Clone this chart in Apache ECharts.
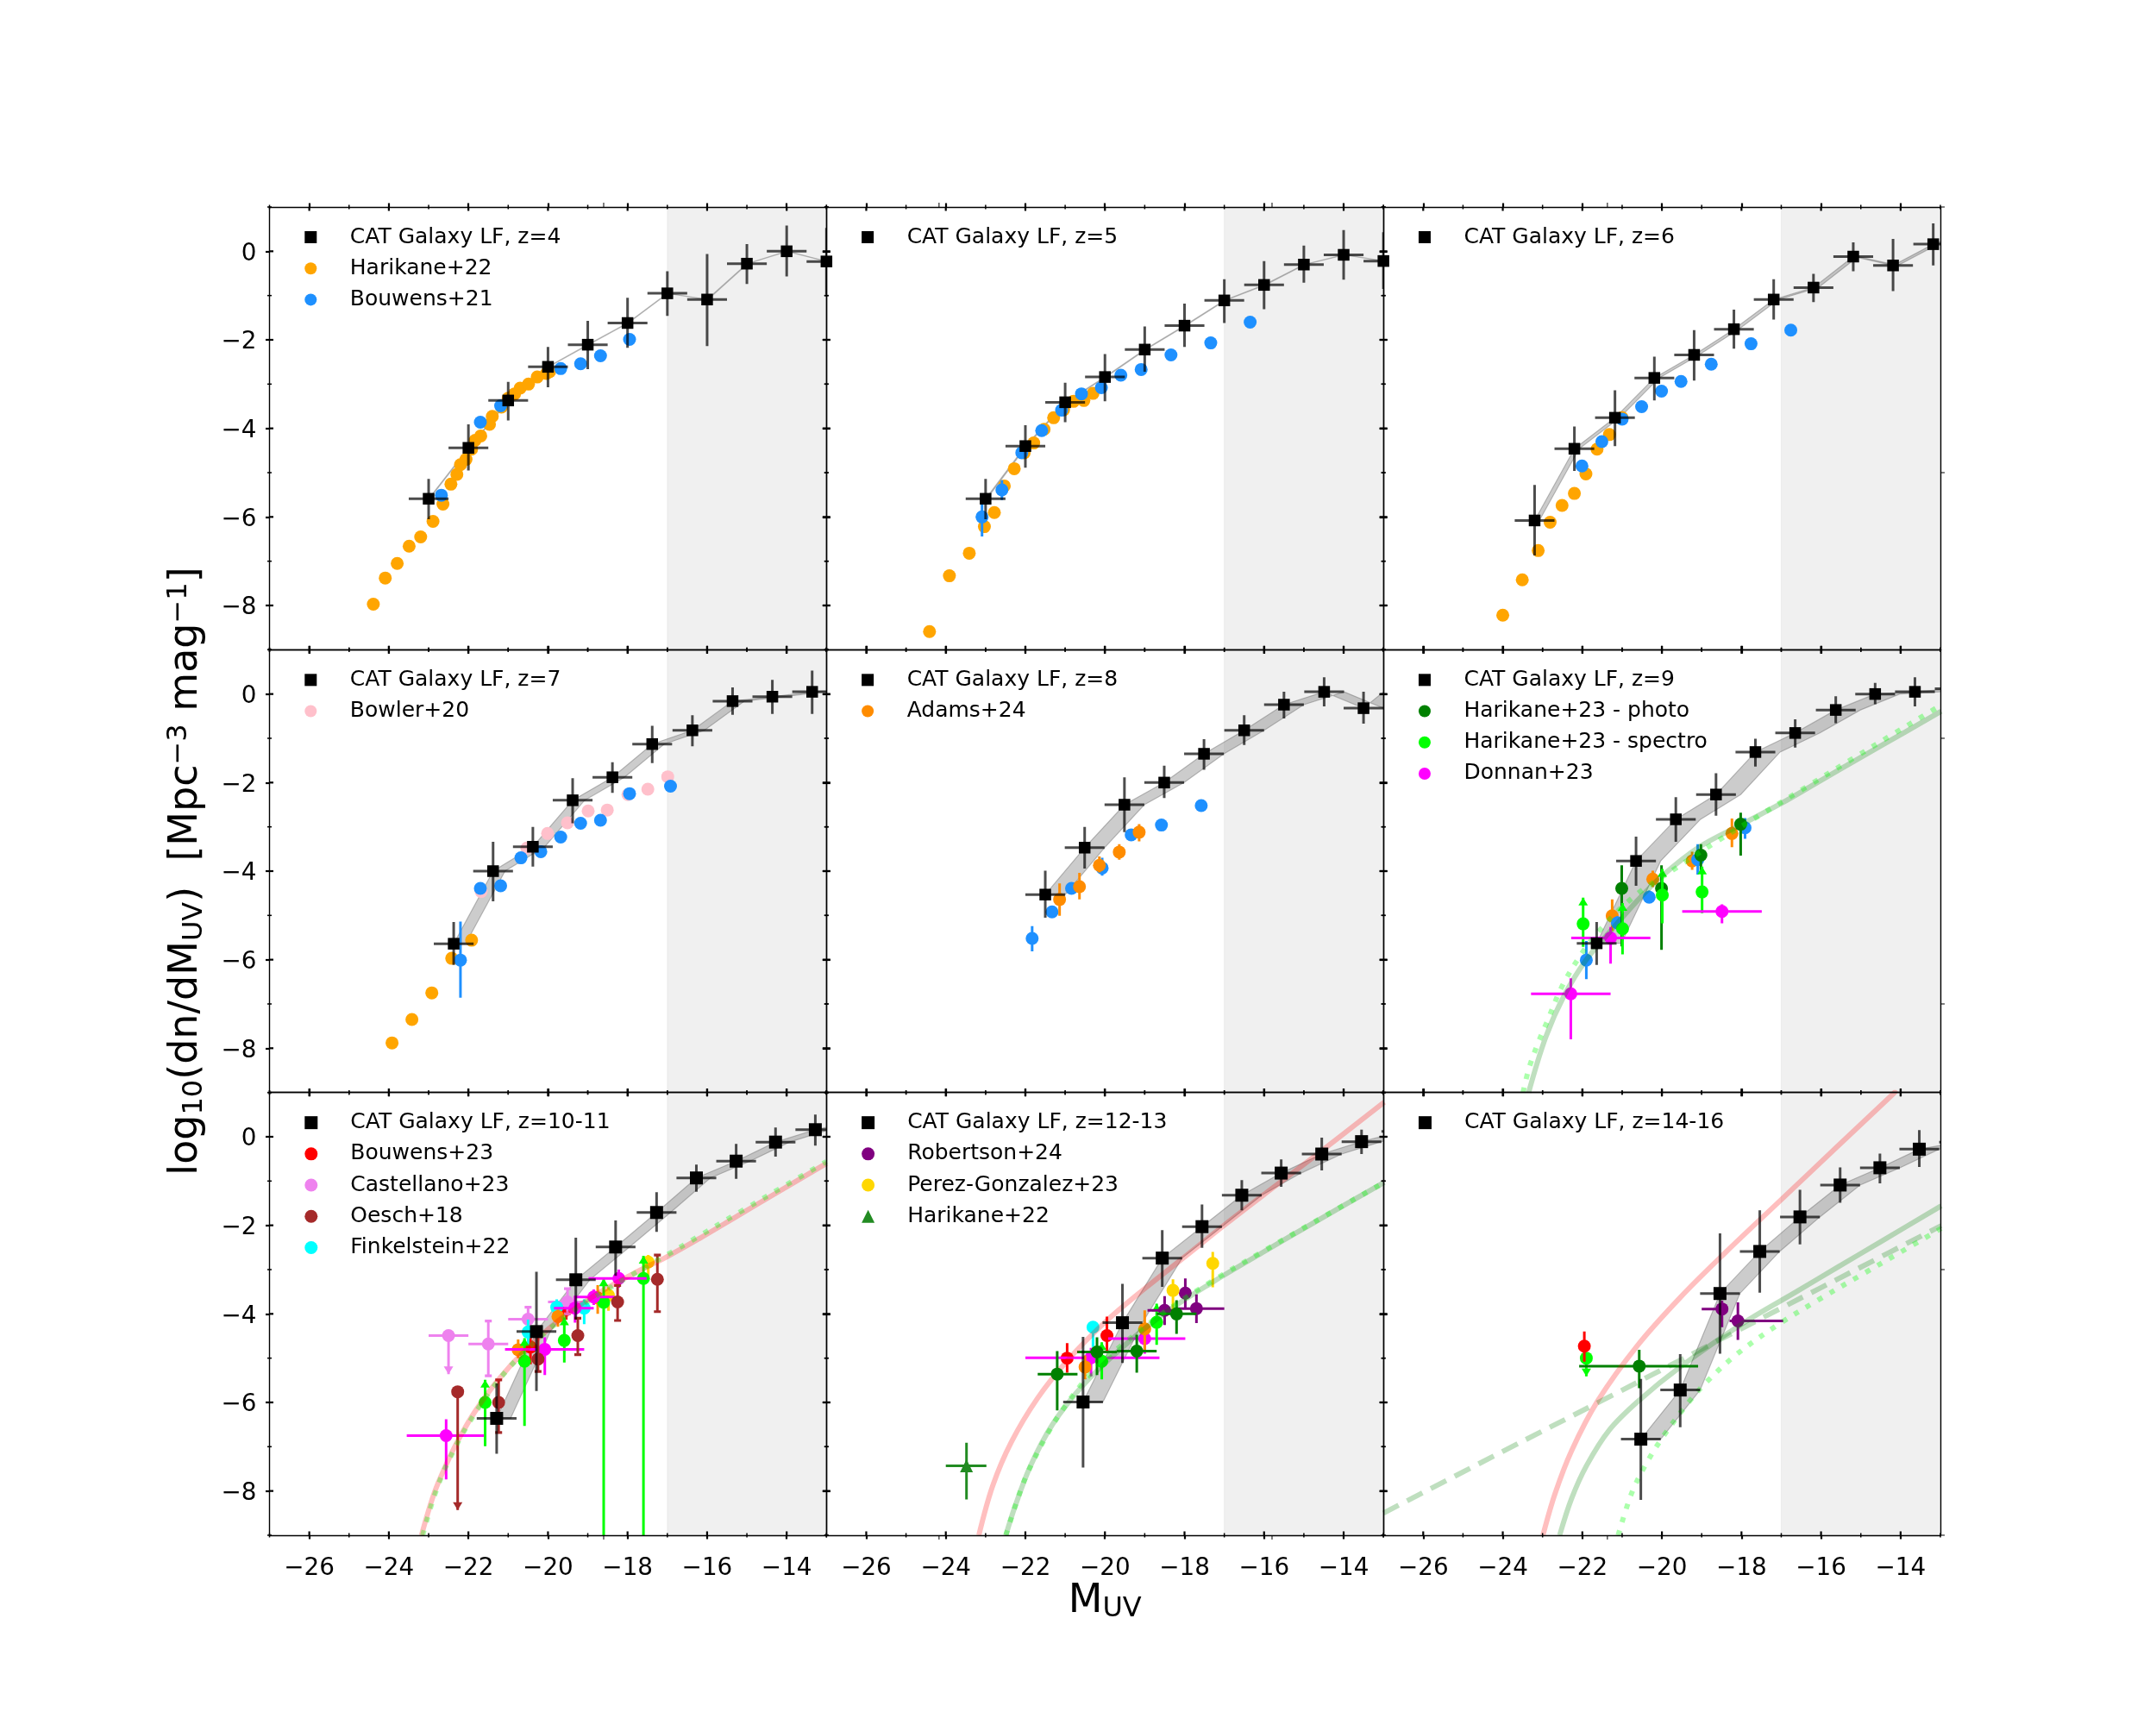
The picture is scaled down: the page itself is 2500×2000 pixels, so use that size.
<!DOCTYPE html>
<html>
<head>
<meta charset="utf-8">
<style>html,body{margin:0;padding:0;background:#fff}#chart{width:2500px;height:2000px}</style>
<script src="https://cdn.jsdelivr.net/npm/echarts@6/dist/echarts.min.js"></script>
</head>
<body>
<div id="chart"></div>
<script>
// tick positions
var xMajor = [-26, -24, -22, -20, -18, -16, -14];
var xMinor = [-27, -25, -23, -21, -19, -17, -15, -13];
var yMajor = [0, -2, -4, -6, -8];
var yMinor = [1, -1, -3, -5, -7, -9];
// stray thin ticks on the outer frame
var strayX = [[-18.6], [-24.17, -15.8], [-21.37]];
var strayRight = [[1, -5], [-1, -7], [-3, -9]];

// CAT rows: x, y, ylo, yhi (x error is always 0.5)
var cat4 = [[-23,-5.59,-6.05,-5.14],[-22,-4.44,-4.95,-3.91],[-21,-3.37,-3.82,-2.95],[-20,-2.61,-3.07,-2.16],[-19,-2.11,-2.66,-1.57],[-18,-1.62,-2.18,-1.05],[-17,-0.95,-1.46,-0.45],[-16,-1.09,-2.14,-0.06],[-15,-0.28,-0.74,0.16],[-14,0,-0.57,0.58],[-13,-0.23,-0.98,0.53]];
var cat5 = [[-23,-5.59,-6.05,-5.14],[-22,-4.40,-4.89,-3.93],[-21,-3.41,-3.86,-2.97],[-20,-2.84,-3.39,-2.32],[-19,-2.22,-2.72,-1.70],[-18,-1.68,-2.16,-1.18],[-17,-1.11,-1.62,-0.63],[-16,-0.76,-1.31,-0.22],[-15,-0.30,-0.71,0.13],[-14,-0.08,-0.64,0.48],[-13,-0.22,-0.85,0.43]];
var cat6 = [[-23.2,-6.08,-6.87,-5.28],[-22.2,-4.46,-4.96,-3.96],[-21.18,-3.76,-4.40,-3.14],[-20.19,-2.86,-3.37,-2.38],[-19.19,-2.34,-2.92,-1.78],[-18.19,-1.76,-2.20,-1.32],[-17.19,-1.09,-1.54,-0.63],[-16.19,-0.82,-1.15,-0.51],[-15.19,-0.12,-0.45,0.20],[-14.19,-0.32,-0.90,0.28],[-13.18,0.16,-0.32,0.63],[-12.18,0.5,0.2,0.8]];
var cat7 = [[-22.37,-5.64,-6.12,-5.15],[-21.38,-4.0,-4.68,-3.34],[-20.38,-3.45,-3.90,-3.0],[-19.38,-2.40,-2.92,-1.90],[-18.38,-1.88,-2.23,-1.54],[-17.38,-1.13,-1.56,-0.72],[-16.37,-0.82,-1.18,-0.48],[-15.36,-0.16,-0.47,0.15],[-14.36,-0.06,-0.45,0.32],[-13.36,0.05,-0.45,0.53],[-12.36,0.1,-0.2,0.4]];
var cat8 = [[-21.5,-4.53,-5.05,-3.99],[-20.51,-3.47,-3.94,-3.0],[-19.51,-2.50,-3.12,-1.88],[-18.51,-2.0,-2.35,-1.62],[-17.51,-1.35,-1.71,-1.02],[-16.5,-0.82,-1.15,-0.48],[-15.5,-0.24,-0.55,0.05],[-14.49,0.05,-0.28,0.38],[-13.5,-0.32,-0.67,0.05],[-12.5,0.42,0.1,0.7]];
var cat9 = [[-21.64,-5.63,-6.12,-5.15],[-20.65,-3.77,-4.33,-3.22],[-19.65,-2.83,-3.34,-2.33],[-18.64,-2.27,-2.75,-1.79],[-17.65,-1.31,-1.64,-1.01],[-16.65,-0.88,-1.21,-0.57],[-15.63,-0.36,-0.66,-0.05],[-14.64,0,-0.23,0.25],[-13.64,0.05,-0.28,0.38],[-12.64,0.12,-0.1,0.35]];
var cat10 = [[-21.29,-6.36,-7.16,-5.57],[-20.29,-4.40,-5.74,-3.05],[-19.30,-3.23,-4.13,-2.28],[-18.30,-2.49,-3.14,-1.89],[-17.27,-1.71,-2.15,-1.25],[-16.27,-0.93,-1.24,-0.63],[-15.27,-0.55,-0.95,-0.16],[-14.28,-0.12,-0.45,0.21],[-13.28,0.16,-0.20,0.50],[-12.28,0.35,0.1,0.6]];
var cat12 = [[-20.55,-5.99,-7.47,-4.52],[-19.56,-4.20,-5.11,-3.32],[-18.56,-2.74,-3.39,-2.11],[-17.56,-2.03,-2.51,-1.53],[-16.56,-1.32,-1.66,-0.98],[-15.57,-0.82,-1.13,-0.51],[-14.55,-0.39,-0.76,-0.02],[-13.55,-0.11,-0.39,0.16],[-12.55,0.12,-0.1,0.35]];
var cat14 = [[-20.53,-6.83,-8.2,-5.47],[-19.54,-5.72,-6.56,-4.91],[-18.54,-3.54,-4.90,-2.18],[-17.54,-2.59,-3.52,-1.66],[-16.53,-1.81,-2.43,-1.20],[-15.52,-1.09,-1.49,-0.69],[-14.52,-0.70,-1.05,-0.38],[-13.53,-0.28,-0.68,0.15],[-12.53,-0.12,-0.4,0.2]];

// observation rows: x, y, xlo, xhi, ylo, yhi, arrow (1 up, -1 down)
var hari4 = [[-24.39,-7.97],[-24.09,-7.38],[-23.79,-7.05],[-23.49,-6.66],[-23.20,-6.45],[-22.89,-6.10],[-22.64,-5.71],[-22.44,-5.26],[-22.29,-5.04],[-22.20,-4.82],[-22.06,-4.70],[-21.92,-4.47],[-21.83,-4.27],[-21.69,-4.17],[-21.47,-3.91],[-21.40,-3.73],[-21.17,-3.52],[-21.0,-3.32],[-20.84,-3.22],[-20.70,-3.09],[-20.49,-3.0],[-20.27,-2.84],[-20.04,-2.76],[-19.96,-2.72]];
var bouw4 = [[-22.68,-5.51],[-21.70,-3.86],[-21.19,-3.49],[-19.68,-2.65],[-19.18,-2.54],[-18.68,-2.36],[-17.95,-1.99]];
var hari5 = [[-24.41,-8.59],[-23.91,-7.33],[-23.41,-6.82],[-23.03,-6.22],[-22.78,-5.90],[-22.53,-5.30],[-22.28,-4.91],[-22.03,-4.55],[-21.79,-4.33],[-21.53,-4.02],[-21.29,-3.76],[-21.04,-3.58],[-20.79,-3.39],[-20.53,-3.37],[-20.30,-3.21]];
var bouw5 = [[-23.09,-6.0,null,null,-6.44,-5.72],[-22.59,-5.39,null,null,-5.62,-5.17],[-22.09,-4.55],[-21.59,-4.05],[-21.09,-3.59],[-20.59,-3.22],[-20.09,-3.08],[-19.60,-2.80],[-19.09,-2.67],[-18.34,-2.34],[-17.34,-2.07],[-16.35,-1.60]];
var hari6 = [[-24.0,-8.22],[-23.51,-7.42],[-23.11,-6.76],[-22.81,-6.12],[-22.51,-5.74],[-22.20,-5.47],[-21.91,-5.03],[-21.63,-4.47],[-21.32,-4.14],[-21.0,-3.76]];
var bouw6 = [[-22.01,-4.85],[-21.51,-4.30],[-21.0,-3.79],[-20.51,-3.51],[-20.01,-3.16],[-19.52,-2.94],[-18.76,-2.55],[-17.76,-2.09],[-16.76,-1.78]];
var hari7 = [[-23.92,-7.88],[-23.42,-7.35],[-22.92,-6.75],[-22.42,-5.97],[-21.92,-5.56]];
var bowl7 = [[-21.68,-4.46],[-20.53,-3.48],[-20.01,-3.15],[-19.51,-2.91],[-18.99,-2.64],[-18.51,-2.62],[-17.99,-2.27],[-17.49,-2.15],[-16.99,-1.87]];
var bouw7 = [[-22.2,-6.01,null,null,-6.86,-5.14],[-21.70,-4.39],[-21.19,-4.33],[-20.68,-3.70],[-20.18,-3.56],[-19.68,-3.23],[-19.18,-2.92],[-18.68,-2.85],[-17.95,-2.25],[-16.92,-2.08]];
var bouw8 = [[-21.83,-5.52,null,null,-5.81,-5.24],[-21.33,-4.92],[-20.84,-4.39],[-20.07,-3.93,null,null,-4.1,-3.7],[-19.34,-3.18],[-18.58,-2.96],[-17.58,-2.52]];
var adam8 = [[-21.14,-4.64,null,null,-5.01,-4.28],[-20.64,-4.35,null,null,-4.64,-4.04],[-20.14,-3.87,null,null,-4.03,-3.67],[-19.64,-3.57,null,null,-3.74,-3.39],[-19.14,-3.12,null,null,-3.33,-2.94]];
var bouw9 = [[-21.9,-6.01,null,null,-6.44,-5.58],[-21.12,-5.17,null,null,-5.32,-5.02],[-20.32,-4.59,null,null,-4.72,-4.44],[-19.10,-3.74,null,null,-4.08,-3.39],[-17.91,-3.02,null,null,-3.27,-2.80]];
var adam9 = [[-21.25,-5.01,null,null,-5.35,-4.64],[-20.23,-4.18,null,null,-4.36,-3.99],[-19.24,-3.77,null,null,-3.97,-3.56],[-18.24,-3.15,null,null,-3.46,-2.81]];
var phot9 = [[-21.01,-4.39,null,null,-5.7,-3.87],[-20.01,-4.39,null,null,-5.78,-3.87],[-19.02,-3.64,null,null,-4.06,-3.39],[-18.02,-2.94,null,null,-3.65,-2.68]];
var spec9 = [[-21.98,-5.19,null,null,-5.71,-4.6,1],[-20.99,-5.30,null,null,-5.88,-4.72,1],[-19.99,-4.54,null,null,-5.18,-3.95,1],[-18.99,-4.47,null,null,-4.95,-3.90,1]];
var donn9 = [[-22.29,-6.77,-23.29,-21.29,-7.80,-6.42],[-21.29,-5.51,-22.28,-20.29,-6.09,-5.26],[-18.49,-4.91,-19.49,-17.49,-5.18,-4.75]];
var bouw10 = [[-20.44,-4.75,null,null,-5.14,-4.5],[-19.54,-3.9,null,null,-4.13,-3.7]];
var cast10 = [[-22.5,-4.49,-23.0,-22.0,-5.36,-4.49,-1],[-21.5,-4.68,-22.0,-21.0,-5.4,-4.16],[-20.5,-4.12,-21.0,-20.0,-4.4,-3.85],[-19.51,-3.73,-20.0,-19.0,-4.0,-3.43]];
var oesc10 = [[-22.27,-5.76,null,null,-8.43,-5.76,-1],[-21.24,-6.0,null,null,-6.68,-5.49],[-20.25,-5.02,null,null,-5.30,-4.5],[-19.25,-4.49,null,null,-4.92,-4.1],[-18.25,-3.73,null,null,-4.15,-3.36],[-17.25,-3.22,null,null,-3.95,-2.67]];
var fink10 = [[-20.5,-4.41,null,null,-4.7,-4.13],[-19.78,-3.85,null,null,-4.1,-3.67],[-19.09,-3.87,null,null,-4.23,-3.67]];
var donn10 = [[-22.56,-6.75,-23.55,-21.61,-7.74,-6.38],[-20.08,-4.80,-21.08,-19.09,-5.38,-4.53],[-19.32,-3.87,-19.85,-18.85,-4.2,-3.6],[-18.85,-3.62,-19.35,-18.33,-3.8,-3.45],[-18.22,-3.20,-18.98,-17.52,-3.41,-3.0]];
var adam10 = [[-20.75,-4.81,null,null,-5.0,-4.58],[-19.75,-4.06,null,null,-4.29,-3.9],[-18.75,-3.64,null,null,-4.0,-3.35]];
var pere10 = [[-18.48,-3.58,null,null,-3.93,-3.4],[-17.48,-2.83,null,null,-3.22,-2.67]];
var spec10 = [[-21.58,-6.0,null,null,-6.99,-5.49,1],[-20.59,-5.07,null,null,-6.53,-4.55,1],[-19.59,-4.60,null,null,-5.1,-4.08,1],[-18.6,-3.74,null,null,-9.5,-3.2,1],[-17.6,-3.2,null,null,-9.5,-2.69,1]];
var bouw12 = [[-20.95,-5.0,null,null,-5.33,-4.66],[-19.95,-4.49,null,null,-4.88,-4.06]];
var fink12 = [[-20.3,-4.30,null,null,-4.75,-4.2]];
var phot12 = [[-21.2,-5.36,-21.69,-20.69,-6.18,-4.84],[-20.2,-4.86,-20.7,-19.7,-5.38,-4.53],[-19.2,-4.84,-19.7,-18.7,-5.33,-4.47],[-18.2,-4.0,-18.7,-17.7,-4.45,-3.69]];
var donn12 = [[-20.35,-4.99,-22.0,-18.63,-5.41,-4.77],[-19.0,-4.56,-19.92,-17.98,-4.9,-4.4]];
var adam12 = [[-20.5,-5.2,null,null,-5.48,-4.94],[-19.0,-4.34,null,null,-4.84,-3.92]];
var spec12 = [[-20.08,-5.07,null,null,-5.48,-4.64,1],[-18.7,-4.19,null,null,-4.7,-3.77,1]];
var robe12 = [[-18.5,-3.92,-18.93,-18.22,-4.25,-3.6],[-17.98,-3.53,null,null,-3.87,-3.2],[-17.7,-3.88,-18.2,-17.0,-4.21,-3.56]];
var pere12 = [[-18.29,-3.47,null,null,-3.9,-3.22],[-17.29,-2.86,null,null,-3.4,-2.6]];
var hari12 = [[-23.48,-7.43,-24.0,-22.98,-8.19,-6.91]];
var spec14 = [[-21.9,-5.0,null,null,-5.41,-4.9,-1]];
var bouw14 = [[-21.95,-4.73,null,null,-5.08,-4.40]];
var phot14 = [[-20.57,-5.18,-22.08,-19.09,-5.68,-4.81]];
var robe14 = [[-18.49,-3.89,-19.0,-18.49,-4.3,-3.7],[-18.09,-4.16,-18.3,-16.95,-4.59,-3.74]];

// model curves
var solid9 = [[-23.35,-9],[-22.92,-7.75],[-22.45,-6.80],[-21.91,-6.01],[-21.26,-5.32],[-20.62,-4.67],[-20.01,-4.12],[-19.07,-3.46],[-18.03,-2.96],[-17.0,-2.47],[-16.06,-1.98],[-15.02,-1.44],[-13.89,-0.86],[-12.98,-0.39]];
var dots9 = [[-23.49,-9],[-23.35,-8.48],[-23.13,-7.92],[-22.88,-7.39],[-22.52,-6.62],[-22.03,-5.88],[-21.51,-5.28],[-20.67,-4.55],[-19.63,-3.92],[-18.6,-3.32],[-17.47,-2.70],[-16.39,-2.11],[-15.26,-1.49],[-14.18,-0.90],[-13.33,-0.44],[-12.98,-0.25]];
var pink10 = [[-23.18,-9],[-22.86,-8.05],[-22.53,-7.35],[-22.25,-6.84],[-21.83,-6.2],[-21.26,-5.5],[-20.60,-4.85],[-19.76,-4.17],[-18.82,-3.58],[-17.87,-3.1],[-17.03,-2.72],[-16.18,-2.29],[-15.24,-1.79],[-14.3,-1.29],[-13.0,-0.6]];
var dots10 = [[-23.15,-9],[-22.86,-8.12],[-22.53,-7.38],[-21.97,-6.44],[-21.17,-5.42],[-20.32,-4.62],[-19.47,-4.0],[-18.53,-3.46],[-17.87,-3.11],[-17.03,-2.68],[-16.27,-2.28],[-15.14,-1.68],[-14.11,-1.14],[-13.0,-0.56]];
var pink12 = [[-23.17,-9],[-22.82,-7.88],[-22.35,-6.89],[-21.69,-5.90],[-20.94,-5.05],[-20.0,-4.19],[-18.96,-3.40],[-18.02,-2.73],[-16.99,-1.99],[-15.95,-1.27],[-14.73,-0.44],[-12.98,0.78]];
var solid12 = [[-22.49,-9],[-22.26,-8.35],[-21.88,-7.45],[-21.32,-6.5],[-20.56,-5.62],[-19.62,-4.8],[-18.49,-3.98],[-17.27,-3.27],[-16.05,-2.62],[-14.73,-1.93],[-12.98,-1.03]];
var dots12 = [[-22.49,-9],[-22.21,-8.22],[-21.93,-7.56],[-21.41,-6.66],[-21.03,-6.12],[-20.37,-5.36],[-19.62,-4.74],[-18.49,-3.95],[-17.27,-3.24],[-16.05,-2.6],[-14.73,-1.92],[-12.98,-1.03]];
var pink14 = [[-22.99,-9],[-22.69,-8.07],[-22.27,-7.09],[-21.61,-5.96],[-20.62,-4.72],[-19.54,-3.63],[-18.41,-2.62],[-17.0,-1.42],[-15.59,-0.22],[-14.22,0.94],[-14.1,1.05]];
var solid14 = [[-22.57,-9],[-22.27,-8.17],[-21.89,-7.42],[-21.32,-6.62],[-20.57,-5.95],[-19.54,-5.2],[-17.94,-4.2],[-16.62,-3.5],[-15.59,-2.95],[-14.46,-2.35],[-12.98,-1.56]];
var dash14 = [[-27,-8.5],[-24.05,-7.13],[-21.51,-5.96],[-18.88,-4.74],[-17.0,-3.87],[-15.12,-3.0],[-12.98,-2.01]];
var dots14 = [[-21.1,-9],[-20.76,-8.05],[-20.38,-7.36],[-19.96,-6.76],[-19.35,-6.02],[-18.88,-5.54],[-18.13,-4.92],[-17.09,-4.25],[-16.06,-3.68],[-14.93,-3.09],[-13.99,-2.6],[-12.98,-2.07]];

var shadeX = [-17, -13];
var BLUE = '#1e90ff', ORANGE = '#ffa500', DORANGE = '#ff8c00', DGREEN = '#008000', LIME = '#00ff00', MAGENTA = '#ff00ff';
var RED = '#ff0000', VIOLET = '#ee82ee', BROWN = '#a52a2a', CYAN = '#00ffff', PURPLE = '#800080', GOLD = '#ffd700', FOREST = '#228b22';
var ICON_SQUARE = 'path://M0 0H10V10H0Z', ICON_TRIANGLE = 'path://M5 0L10 10L0 10Z';

var panels = [
  { label: 'z=4', cat: cat4, shift: 0.02, sq: 13.5, legend: ['Harikane+22', 'Bouwens+21'],
    pts: [['Harikane+22', hari4, ORANGE], ['Bouwens+21', bouw4, BLUE]], curves: [] },
  { label: 'z=5', cat: cat5, shift: 0.03, sq: 13.5, legend: [],
    pts: [['Harikane+22', hari5, ORANGE], ['Bouwens+21', bouw5, BLUE]], curves: [] },
  { label: 'z=6', cat: cat6, shift: 0.12, sq: 13.5, legend: [],
    pts: [['Harikane+22', hari6, ORANGE], ['Bouwens+21', bouw6, BLUE]], curves: [] },
  { label: 'z=7', cat: cat7, shift: 0.3, sq: 13.5, legend: ['Bowler+20'],
    pts: [['Harikane+22', hari7, ORANGE], ['Bowler+20', bowl7, '#ffc0cb'], ['Bouwens+21', bouw7, BLUE]], curves: [] },
  { label: 'z=8', cat: cat8, shift: 0.5, sq: 13.5, legend: ['Adams+24'],
    pts: [['Bouwens+21', bouw8, BLUE], ['Adams+24', adam8, DORANGE]], curves: [] },
  { label: 'z=9', cat: cat9, shift: 0.62, sq: 13.5, legend: ['Harikane+23 - photo', 'Harikane+23 - spectro', 'Donnan+23'],
    pts: [['Adams+24', adam9, DORANGE], ['Bouwens+21', bouw9, BLUE], ['Harikane+23 - photo', phot9, DGREEN], ['Harikane+23 - spectro', spec9, LIME], ['Donnan+23', donn9, MAGENTA]],
    curves: [[solid9, 'solid'], [dots9, 'dots']] },
  { label: 'z=10-11', cat: cat10, shift: 0.35, sq: 15, legend: ['Bouwens+23', 'Castellano+23', 'Oesch+18', 'Finkelstein+22'],
    pts: [['Bouwens+23', bouw10, RED], ['Castellano+23', cast10, VIOLET, true], ['Finkelstein+22', fink10, CYAN], ['Adams+24', adam10, DORANGE], ['Perez-Gonzalez+23', pere10, GOLD], ['Harikane+23 - spectro', spec10, LIME], ['Donnan+23', donn10, MAGENTA], ['Oesch+18', oesc10, BROWN, true]],
    curves: [[pink10, 'pink'], [dots10, 'dots']] },
  { label: 'z=12-13', cat: cat12, shift: 0.5, sq: 15, legend: ['Robertson+24', 'Perez-Gonzalez+23', { name: 'Harikane+22 ', icon: ICON_TRIANGLE }],
    pts: [['Bouwens+23', bouw12, RED], ['Finkelstein+22', fink12, CYAN], ['Donnan+23', donn12, MAGENTA], ['Adams+24', adam12, DORANGE], ['Harikane+23 - spectro', spec12, LIME], ['Robertson+24', robe12, PURPLE], ['Perez-Gonzalez+23', pere12, GOLD], ['Harikane+23 - photo', phot12, DGREEN], ['Harikane+22 ', hari12, FOREST, false, 'triangle']],
    curves: [[pink12, 'pink'], [solid12, 'solid'], [dots12, 'dots']] },
  { label: 'z=14-16', cat: cat14, shift: 0.5, sq: 15, legend: [],
    pts: [['Harikane+23 - spectro', spec14, LIME], ['Bouwens+23', bouw14, RED], ['Harikane+23 - photo', phot14, DGREEN], ['Robertson+24', robe14, PURPLE]],
    curves: [[pink14, 'pink'], [solid14, 'solid'], [dash14, 'dash'], [dots14, 'dots']] }
];

var curveStyle = {
  pink: { color: 'rgba(255,0,0,0.25)', type: 'solid' },
  solid: { color: 'rgba(0,128,0,0.25)', type: 'solid' },
  dash: { color: 'rgba(0,128,0,0.25)', type: [20, 11] },
  dots: { color: 'rgba(0,255,0,0.33)', type: [6, 10] }
};

var GX = 312.5, GY = 240, GW = 645.83, GH = 513.33;
var TICK_FONT = 27.8, LEG_FONT = 25;
var grids = [], xAxes = [], yAxes = [], series = [], legends = [];

function minus(v) { return String(v).replace('-', '\u2212'); }

// ticks that the axis cannot draw: minor ticks, inner half of major ticks, stray ones
function tickSeries(i, col, row) {
  var line = function (a, b, w) {
    return { type: 'line', shape: { x1: a[0], y1: a[1], x2: b[0], y2: b[1] }, style: { stroke: '#000', lineWidth: w } };
  };
  return {
    type: 'custom', name: 'ticks' + i, xAxisIndex: 2 * i, yAxisIndex: 2 * i, clip: false, silent: true, z: 30,
    data: [[-20, -4]],
    renderItem: function (p, api) {
      var kids = [];
      var vTick = function (v, yv, dir, lenIn, lenOut, w) {
        var c = api.coord([v, yv]);
        kids.push(line([c[0], c[1] - dir * lenIn], [c[0], c[1] + dir * lenOut], w));
      };
      var hTick = function (v, xv, dir, lenIn, lenOut, w) {
        var c = api.coord([xv, v]);
        kids.push(line([c[0] - dir * lenIn, c[1]], [c[0] + dir * lenOut, c[1]], w));
      };
      [[-9, 1], [1, -1]].forEach(function (e) {
        xMajor.forEach(function (v) { vTick(v, e[0], e[1], 4.5, 0, 2.2); });
        xMinor.forEach(function (v) { vTick(v, e[0], e[1], 2.5, 2.5, 1.5); });
      });
      yMajor.forEach(function (v) { hTick(v, -27, -1, 4.5, 0, 2.2); });
      yMinor.forEach(function (v) { hTick(v, -27, -1, 2.5, 2.5, 1.5); });
      if (col < 2) {
        yMajor.forEach(function (v) { hTick(v, -13, 1, 4.5, 0, 2.2); });
        yMinor.forEach(function (v) { hTick(v, -13, 1, 2.5, 2.5, 1.5); });
      } else {
        strayRight[row].forEach(function (v) { hTick(v, -13, 1, 0, 5, 1); });
      }
      if (row === 0) strayX[col].forEach(function (v) { vTick(v, 1, -1, 0, 5, 1); });
      if (row === 2) strayX[col].forEach(function (v) { vTick(v, -9, 1, 0, 5, 1); });
      return { type: 'group', children: kids };
    }
  };
}

// filled polygon through the axis scales
function polySeries(i, verts, fill, stroke, z) {
  return {
    type: 'custom', name: 'poly' + i + '_' + z, xAxisIndex: 2 * i, yAxisIndex: 2 * i, clip: true, silent: true, z: z,
    data: verts,
    renderItem: function (p, api) {
      if (p.dataIndex !== 0) return null;
      return {
        type: 'polygon',
        shape: { points: verts.map(function (v) { return api.coord(v); }) },
        style: { fill: fill, stroke: stroke, lineWidth: 1.2 }
      };
    }
  };
}

// error bars, with optional caps and limit arrows
function errSeries(i, name, rows, color, width, caps, z) {
  return {
    type: 'custom', name: name + ' err' + i, xAxisIndex: 2 * i, yAxisIndex: 2 * i, clip: true, silent: true, z: z,
    data: rows.map(function (r) { return [r[0], r[1]]; }),
    renderItem: function (p, api) {
      var r = rows[p.dataIndex], kids = [];
      var seg = function (a, b, w) {
        kids.push({ type: 'line', shape: { x1: a[0], y1: a[1], x2: b[0], y2: b[1] }, style: { stroke: color, lineWidth: w || width } });
      };
      if (r[2] != null) seg(api.coord([r[2], r[1]]), api.coord([r[3], r[1]]));
      if (r[4] != null) {
        var lo = api.coord([r[0], r[4]]), hi = api.coord([r[0], r[5]]);
        seg(lo, hi);
        if (caps && r[6] !== -1) {
          seg([lo[0] - 4, lo[1]], [lo[0] + 4, lo[1]], 3.2);
          seg([hi[0] - 4, hi[1]], [hi[0] + 4, hi[1]], 3.2);
        }
        if (r[6] === 1 || r[6] === -1) {
          var tip = r[6] === 1 ? hi : lo;
          kids.push({
            type: 'polygon',
            shape: { points: [[tip[0] - 5.5, tip[1] + r[6] * 9], [tip[0] + 5.5, tip[1] + r[6] * 9], tip] },
            style: { fill: color }
          });
        }
      }
      return { type: 'group', children: kids };
    }
  };
}

function markerSeries(i, name, rows, color, symbol, size, z) {
  return {
    type: 'scatter', name: name, xAxisIndex: 2 * i, yAxisIndex: 2 * i, z: z, clip: true, silent: true,
    symbol: symbol, symbolSize: size, itemStyle: { color: color, opacity: 1 },
    data: rows.map(function (r) { return [r[0], r[1]]; })
  };
}

panels.forEach(function (pn, i) {
  var col = i % 3, row = Math.floor(i / 3);
  var left = GX + col * GW, top = GY + row * GH;
  grids.push({ left: left, top: top, width: GW, height: GH, show: false });

  var xBase = { type: 'value', gridIndex: i, min: -27, max: -13, z: 20, splitLine: { show: false },
    axisLine: { onZero: false, lineStyle: { color: '#000', width: 1.4 } } };
  var yBase = { type: 'value', gridIndex: i, min: -9, max: 1, z: 20, splitLine: { show: false },
    axisLine: { onZero: false, lineStyle: { color: '#000', width: 1.4 } } };
  var xt = { show: true, length: 4.5, customValues: xMajor, lineStyle: { color: '#000', width: 2.2 } };
  var yt = { show: true, length: 4.5, customValues: yMajor, lineStyle: { color: '#000', width: 2.2 } };

  xAxes.push(Object.assign({}, xBase, { position: 'bottom', axisTick: xt,
    axisLabel: row === 2 ? { show: true, customValues: xMajor, formatter: minus, fontSize: TICK_FONT, color: '#000', margin: 25, fontFamily: 'DejaVu Sans' } : { show: false } }));
  xAxes.push(Object.assign({}, xBase, { position: 'top', axisTick: xt, axisLabel: { show: false } }));
  yAxes.push(Object.assign({}, yBase, { position: 'left', axisTick: yt,
    axisLabel: col === 0 ? { show: true, customValues: yMajor, color: '#000', margin: 15,
      formatter: function (v) { return '{a|' + minus(v) + '}'; },
      rich: { a: { fontSize: TICK_FONT, color: '#000', fontFamily: 'DejaVu Sans', padding: [6, 0, 0, 0] } } } : { show: false } }));
  yAxes.push(Object.assign({}, yBase, { position: 'right', axisTick: col < 2 ? yt : { show: false }, axisLabel: { show: false } }));

  series.push(polySeries(i, [[shadeX[0], -9], [shadeX[1], -9], [shadeX[1], 1], [shadeX[0], 1]], 'rgba(128,128,128,0.12)', 'rgba(128,128,128,0.08)', 1));

  var upper = pn.cat.map(function (r) { return [r[0], r[1]]; });
  var lower = pn.cat.map(function (r) { return [r[0] + pn.shift, r[1]]; }).reverse();
  series.push(polySeries(i, upper.concat(lower), 'rgba(128,128,128,0.4)', 'rgba(110,110,110,0.45)', 2));

  var z = 3;
  pn.pts.forEach(function (d) {
    var errRows = d[1].filter(function (r) { return r.length > 2; });
    if (errRows.length) series.push(errSeries(i, d[0], errRows, d[2], 3, d[3], z++));
    series.push(markerSeries(i, d[0], d[1], d[2], d[4] || 'circle', 15, z++));
  });

  pn.curves.forEach(function (c) {
    var st = curveStyle[c[1]];
    series.push({
      type: 'line', name: c[1] + i, xAxisIndex: 2 * i, yAxisIndex: 2 * i, z: 18, clip: true, silent: true,
      showSymbol: false, smooth: 0.35, data: c[0],
      lineStyle: { color: st.color, type: st.type, width: c[1] === 'dots' ? 6 : 6 }
    });
  });

  var catName = 'CAT Galaxy LF, ' + pn.label;
  var catRows = pn.cat.map(function (r) { return [r[0], r[1], r[0] - 0.5, r[0] + 0.5, r[2], r[3]]; });
  series.push(errSeries(i, catName, catRows, 'rgba(0,0,0,0.7)', 3, false, 21));
  series.push(markerSeries(i, catName, pn.cat, '#000', 'rect', pn.sq, 22));

  // the legend box starts at the icon, not at the 81px item box
  legends.push({
    show: true, orient: 'vertical', left: left + 40.8, top: top + 22.5, padding: 0,
    itemWidth: 81, itemHeight: pn.sq === 15 ? 15 : 14, itemGap: 11.2, selectedMode: false,
    data: [{ name: catName, icon: ICON_SQUARE }].concat(pn.legend),
    formatter: function (n) { return n.trim(); },
    textStyle: { fontSize: LEG_FONT, lineHeight: 20, color: '#000', fontFamily: 'DejaVu Sans' }
  });

  series.push(tickSeries(i, col, row));
});

// shared axis titles
xAxes[14].name = 'M{s|UV}';
xAxes[14].nameLocation = 'middle';
xAxes[14].nameGap = 52;
xAxes[14].nameMoveOverlap = false;
xAxes[14].nameTextStyle = { fontSize: 46, color: '#000', fontFamily: 'DejaVu Sans',
  rich: { s: { fontSize: 32, verticalAlign: 'bottom', color: '#000', fontFamily: 'DejaVu Sans', lineHeight: 50 } } };

yAxes[6].name = 'log{s|10}(dn/dM{s|UV})  [Mpc{u|\u22123} mag{u|\u22121}]';
yAxes[6].nameLocation = 'middle';
yAxes[6].nameGap = 71;
yAxes[6].nameRotate = 90;
yAxes[6].nameMoveOverlap = false;
yAxes[6].nameTextStyle = { fontSize: 46, color: '#000', fontFamily: 'DejaVu Sans',
  rich: {
    s: { fontSize: 32, verticalAlign: 'bottom', color: '#000', fontFamily: 'DejaVu Sans', lineHeight: 50 },
    u: { fontSize: 32, verticalAlign: 'top', color: '#000', fontFamily: 'DejaVu Sans', lineHeight: 50 }
  } };

var chart = echarts.init(document.getElementById('chart'));
chart.setOption({
  animation: false,
  backgroundColor: '#fff',
  textStyle: { fontFamily: 'DejaVu Sans' },
  legend: legends,
  grid: grids,
  xAxis: xAxes,
  yAxis: yAxes,
  series: series
});
</script>
</body>
</html>
